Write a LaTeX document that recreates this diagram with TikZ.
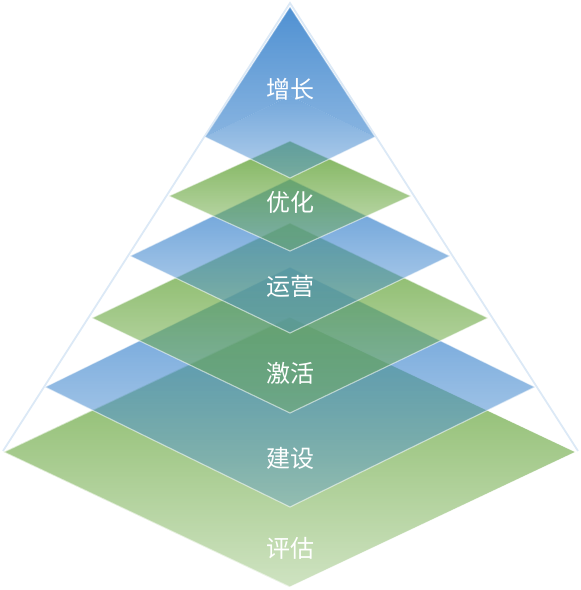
\documentclass[tikz,border=0pt]{standalone}
\usepackage{fontspec}
\newfontfamily\cjk{Noto Sans CJK SC}
\usetikzlibrary{fadings}
\definecolor{layerblue}{RGB}{80,145,210}
\definecolor{layergreen}{RGB}{110,170,70}
\definecolor{pyroutline}{RGB}{220,233,246}
\tikzfading[name=layerfade, top color=transparent!8, middle color=transparent!24, bottom color=transparent!67]
\tikzfading[name=capfade, top color=transparent!0, middle color=transparent!3, bottom color=transparent!32]
\tikzfading[name=capdiamondfade, top color=transparent!20, middle color=transparent!36, bottom color=transparent!58]
\tikzset{
  rim/.style={draw=white, draw opacity=0.55, line width=1.1pt, line join=round},
  lbl/.style={text=white, font=\cjk\fontsize{24}{24}\selectfont, inner sep=0pt},
  outlinepyr/.style={draw=pyroutline, line width=1.8pt}
}
\newcommand\pyrlayer[5]{%
  \fill[#4, path fading=#5] (290,#1-#3) -- (290-#2,#1) -- (290,#1+#3) -- (290+#2,#1) -- cycle;
  \path[rim] (290,#1-#3) -- (290-#2,#1) -- (290,#1+#3) -- (290+#2,#1) -- cycle;}
\begin{document}
\begin{tikzpicture}[x=1pt,y=-1pt]
\useasboundingbox (0,0) rectangle (581,590);
\coordinate (apex) at (290,3);
\coordinate (bl) at (3,451);
\coordinate (br) at (578,451);
\draw[outlinepyr] (bl) -- (apex) -- (br);
% layers, bottom first
\pyrlayer{452}{286}{135}{layergreen}{layerfade}
\pyrlayer{387}{245}{120}{layerblue}{layerfade}
\pyrlayer{318}{198}{95}{layergreen}{layerfade}
\pyrlayer{256}{160}{77}{layerblue}{layerfade}
\pyrlayer{196}{121}{55}{layergreen}{layerfade}
% top cap
\coordinate (capT) at (290,7);
\coordinate (capL) at (205,137);
\coordinate (capR) at (375,137);
\coordinate (capM) at (290,96);
\coordinate (capB) at (290,178);
\fill[layerblue, path fading=capfade] (capT) -- (capL) -- (capM) -- (capR) -- cycle;
\fill[layerblue, path fading=capdiamondfade] (capM) -- (capL) -- (capB) -- (capR) -- cycle;
\path[rim] (capL) -- (capB) -- (capR);
\path[rim, draw opacity=0.35] (capL) -- (capT) -- (capR);
% labels
\node[lbl] (l1) at (290,89) {增长};
\node[lbl] (l2) at (290,202) {优化};
\node[lbl] (l3) at (290,286) {运营};
\node[lbl] (l4) at (290,373) {激活};
\node[lbl] (l5) at (290,458) {建设};
\node[lbl] (l6) at (290,548) {评估};
\end{tikzpicture}
\end{document}
